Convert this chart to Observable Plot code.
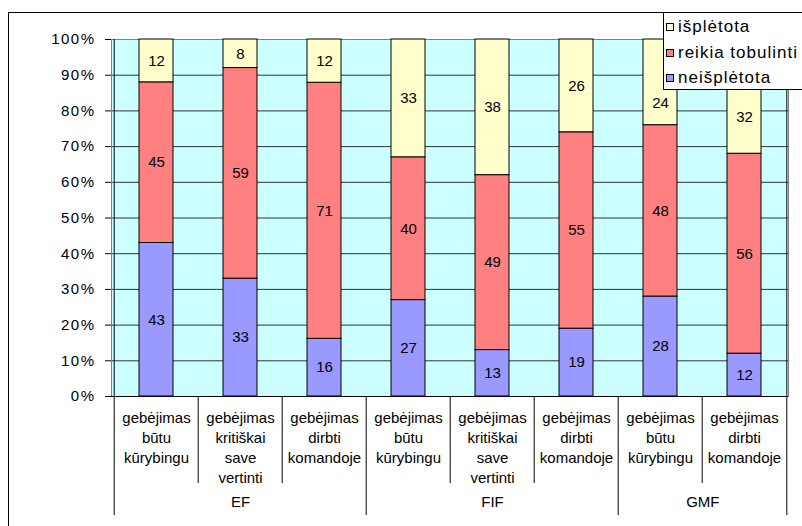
<!DOCTYPE html>
<html><head><meta charset="utf-8">
<script src="https://cdn.jsdelivr.net/npm/d3@7"></script>
<script src="https://cdn.jsdelivr.net/npm/@observablehq/plot@0.6"></script>
<style>
html,body{margin:0;padding:0;background:#fff;}
#wrap{position:relative;width:802px;height:526px;overflow:hidden;font-family:"Liberation Sans",Arial,sans-serif;}
#border{position:absolute;left:8px;top:12px;width:900px;height:700px;border-left:1px solid #000;border-top:1px solid #000;}
#chart{position:absolute;left:0;top:0;}
#legend{position:absolute;left:663px;top:12px;width:200px;height:78px;background:#fff;border:1px solid #000;box-sizing:border-box;padding-top:1.5px;}
.item{display:flex;align-items:center;height:25.5px;font-size:17px;letter-spacing:1px;color:#000;white-space:nowrap;}
.sw{width:6px;height:6px;border:1px solid #000;margin-left:2px;margin-right:4px;flex:none;}
g[aria-label="data labels"] text{letter-spacing:1.2px;}
g[aria-label="y-axis tick label"] text{letter-spacing:1.5px;}
</style></head><body>
<div id="wrap"><div id="border"></div><div id="chart"></div><div id="legend"></div></div>
<script>
// ---- data ----
const groups = ["EF", "FIF", "GMF"];
const categories = [
  "gebėjimas\nbūtu\nkūrybingu",
  "gebėjimas\nkritiškai\nsave\nvertinti",
  "gebėjimas\ndirbti\nkomandoje",
  "gebėjimas\nbūtu\nkūrybingu",
  "gebėjimas\nkritiškai\nsave\nvertinti",
  "gebėjimas\ndirbti\nkomandoje",
  "gebėjimas\nbūtu\nkūrybingu",
  "gebėjimas\ndirbti\nkomandoje"
];
const categoryGroup = ["EF", "EF", "EF", "FIF", "FIF", "FIF", "GMF", "GMF"];
const seriesNames = ["neišplėtota", "reikia tobulinti", "išplėtota"];
const neispletota = [43, 33, 16, 27, 13, 19, 28, 12];
const reikiaTobulinti = [45, 59, 71, 40, 49, 55, 48, 56];
const ispletota = [12, 8, 12, 33, 38, 26, 24, 32];
const yTicks = [0, 0.1, 0.2, 0.3, 0.4, 0.5, 0.6, 0.7, 0.8, 0.9, 1];
const seriesColors = ["#9999FF", "#FF8080", "#FFFFCC"];

// ---- tables built from the arrays ----
const seriesValues = [neispletota, reikiaTobulinti, ispletota];
const rows = [];
categories.forEach((c, i) => {
  seriesNames.forEach((s, k) => rows.push({i, series: s, group: categoryGroup[i], value: seriesValues[k][i]}));
});
const catRows = categories.map((label, i) => ({i, label, group: categoryGroup[i]}));
const n = categories.length;
const groupStarts = catRows.filter((d, i) => i === 0 || categoryGroup[i - 1] !== d.group).map(d => d.i);
const innerSeps = catRows.filter(d => !groupStarts.includes(d.i)).map(d => d.i);

// labels under the legend were nudged down in the original
const nudged = d => d.group === "GMF" && d.series === seriesNames[2];

// ---- layout ----
const W = 802, H = 526, mL = 111, mR = 14, mT = 39, mB = 130;
const step = (W - mL - mR) / n;
const frameH = H - mT - mB;

const groupLabelMarks = groups.map(g => {
  const idx = catRows.filter(d => d.group === g).map(d => d.i);
  const mid = (idx[0] + idx[idx.length - 1]) / 2;
  const base = Math.floor(mid);
  return Plot.text([{i: base, g}], {
    x: "i", text: "g", frameAnchor: "bottom", lineAnchor: "middle",
    dy: 106, dx: (mid - base) * step, fill: "#000"
  });
});

const stackOpts = {x: "i", y: "value", z: "series", text: "value", offset: "normalize", order: seriesNames, fill: "#000", ariaLabel: "data labels"};

const plot = Plot.plot({
  width: W, height: H,
  marginLeft: mL, marginRight: mR, marginTop: mT, marginBottom: mB,
  style: {fontFamily: "'Liberation Sans', Arial, sans-serif", fontSize: "15px", color: "#000", background: "transparent", overflow: "visible"},
  x: {type: "band", domain: d3.range(n), paddingInner: 0.6, paddingOuter: 0.3, axis: null, label: null},
  y: {domain: [0, 1], axis: null, label: null},
  color: {domain: seriesNames, range: seriesColors},
  marks: [
    Plot.frame({fill: "#CCFFFF"}),
    Plot.ruleY(yTicks, {stroke: "#333", strokeWidth: 1}),
    Plot.frame({stroke: "#808080"}),
    Plot.barY(rows, {x: "i", y: "value", fill: "series", stroke: "#000", strokeWidth: 1, offset: "normalize", order: seriesNames}),
    Plot.text(rows, Plot.filter(d => !nudged(d), Plot.stackY(stackOpts))),
    Plot.text(rows, Plot.filter(nudged, Plot.stackY({...stackOpts, dy: 21}))),
    Plot.axisY({ticks: yTicks, tickFormat: d3.format(".0%"), tickSize: 6, tickPadding: 10, stroke: "#000", fill: "#000", label: null}),
    Plot.ruleY([0], {stroke: "#000"}),
    // left axis line + outer separators
    Plot.ruleX([0], {dx: -step / 2, insetBottom: -119, stroke: "#000"}),
    Plot.ruleX([n - 1], {dx: step / 2, insetBottom: -119, stroke: "#000"}),
    // group separators below axis
    Plot.ruleX(groupStarts.filter(i => i > 0), {dx: -step / 2, insetTop: frameH, insetBottom: -119, stroke: "#000"}),
    // category separators below axis
    Plot.ruleX(innerSeps, {dx: -step / 2, insetTop: frameH, insetBottom: -87, stroke: "#000"}),
    // category labels
    Plot.text(catRows, {x: "i", text: "label", frameAnchor: "bottom", lineAnchor: "top", dy: 12, lineHeight: 1.333, fill: "#000"}),
    ...groupLabelMarks
  ]
});
document.getElementById("chart").appendChild(plot);

// ---- legend (top to bottom reversed like the stack) ----
const legend = document.getElementById("legend");
seriesNames.slice().reverse().forEach(s => {
  const k = seriesNames.indexOf(s);
  const item = document.createElement("div");
  item.className = "item";
  const sw = document.createElement("span");
  sw.className = "sw";
  sw.style.background = seriesColors[k];
  const t = document.createElement("span");
  t.textContent = s;
  item.appendChild(sw); item.appendChild(t);
  legend.appendChild(item);
});
</script>
</body></html>
